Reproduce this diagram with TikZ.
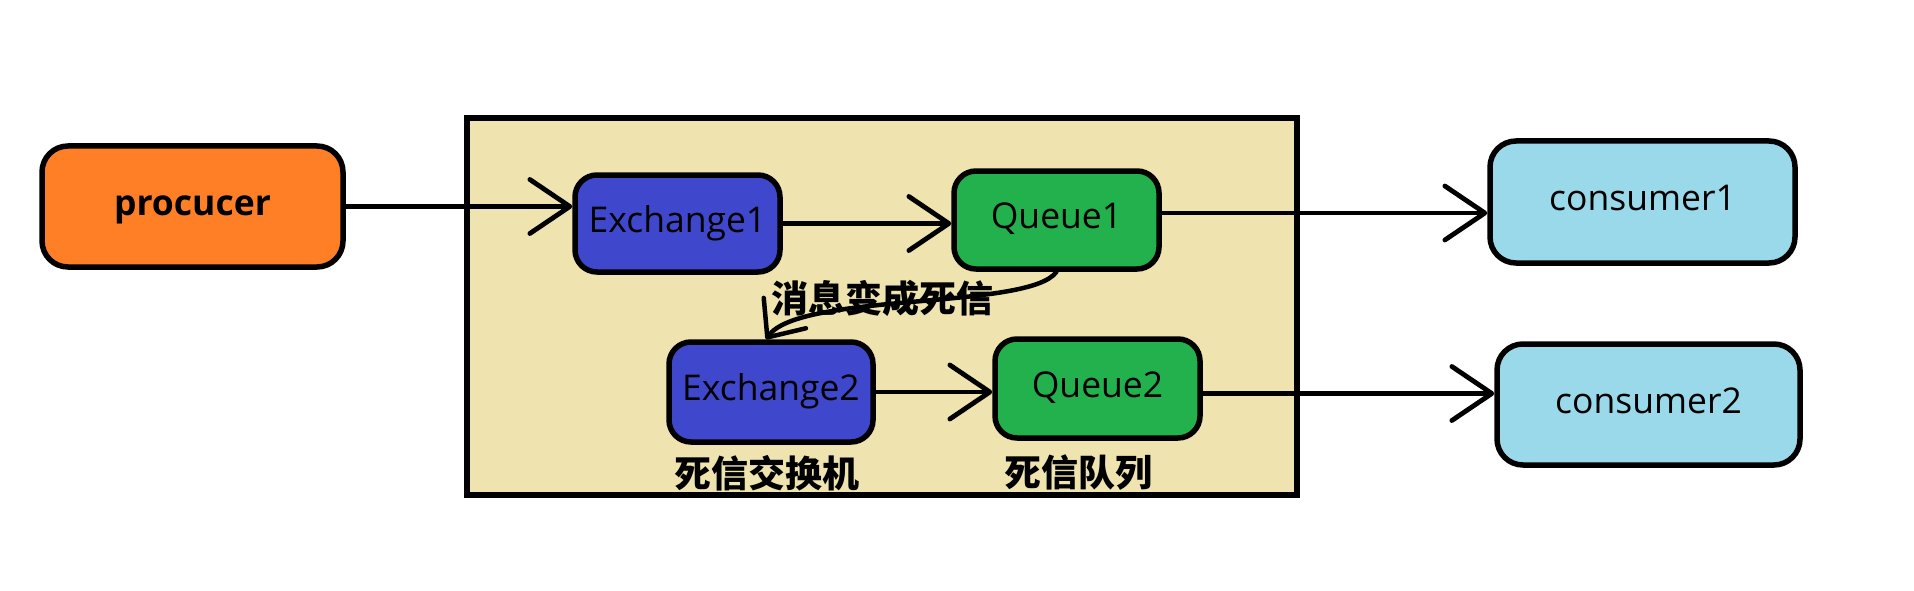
\documentclass[tikz,border=0pt]{standalone}
\usepackage{fontspec}
\setmainfont{Open Sans}
\newfontfamily\cjk{Noto Sans CJK SC}
\usetikzlibrary{arrows.meta}
\definecolor{procorange}{HTML}{FF7F27}
\definecolor{exblue}{HTML}{3F48CC}
\definecolor{qgreen}{HTML}{22B14C}
\definecolor{consblue}{HTML}{99D9EA}
\definecolor{cream}{HTML}{EFE4B0}
\begin{document}
\begin{tikzpicture}[x=1pt,y=-1pt,
  box/.style={draw=black, line width=5.5pt, rounded corners=22pt, inner sep=0pt,
    font=\fontsize{35.5}{40}\selectfont, text height=26pt, text depth=9pt},
  conn/.style={line width=4.8pt, line cap=round, -{Straight Barb[length=40pt,width=54pt,round]}},
  connsmall/.style={line width=4.5pt, line cap=round, -{Straight Barb[length=30pt,width=52pt,round]}},
  cjklabel/.style={font=\cjk\bfseries\fontsize{37}{40}\selectfont, inner sep=0pt}]
\useasboundingbox (0,0) rectangle (1914,591);
\node[draw=black, line width=5.5pt, fill=cream, minimum width=830pt, minimum height=377pt, inner sep=0pt] (frame) at (882,306.5) {};
\node[box, fill=procorange, rounded corners=26pt, minimum width=301pt, minimum height=121pt, font=\fontsize{35.5}{40}\selectfont\bfseries] (proc) at (192.5,206.5) {procucer};
\node[box, fill=exblue, minimum width=205pt, minimum height=97pt] (ex1) at (677.5,223.5) {Exchange1};
\node[box, fill=qgreen, minimum width=205pt, minimum height=98pt] (q1) at (1056.5,220) {Queue1};
\node[box, fill=exblue, minimum width=204pt, minimum height=100pt] (ex2) at (771,392) {Exchange2};
\node[box, fill=qgreen, minimum width=205pt, minimum height=99pt] (q2) at (1097.5,388.5) {Queue2};
\node[box, fill=consblue, rounded corners=26pt, minimum width=305pt, minimum height=122pt] (c1) at (1642.5,202) {consumer1};
\node[box, fill=consblue, rounded corners=26pt, minimum width=303pt, minimum height=121pt] (c2) at (1648.5,404.5) {consumer2};
\node[cjklabel] (dead) at (882,298) {消息变成死信};
\node[cjklabel] (dlx) at (767,473) {死信交换机};
\node[cjklabel] (dlq) at (1078,473) {死信队列};
\draw[conn] (proc.east) -- (proc.east -| ex1.west);
\draw[conn] (ex1.east) -- (ex1.east -| q1.west);
\draw[conn] ([yshift=7pt]q1.east) -- ([yshift=7pt]q1.east -| c1.west);
\draw[conn] (ex2.east) -- (ex2.east -| q2.west);
\draw[conn] ([yshift=-5pt]q2.east) -- ([yshift=-5pt]q2.east -| c2.west);
\draw[connsmall] (q1.south) .. controls (1030,310) and (800,292) .. ([xshift=-5pt]ex2.north);
\end{tikzpicture}
\end{document}
